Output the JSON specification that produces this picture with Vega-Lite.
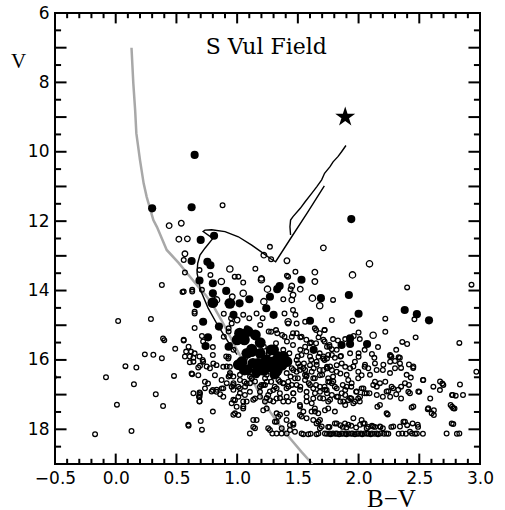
{
  "$schema": "https://vega.github.io/schema/vega-lite/v6.json",
  "width": 425,
  "height": 451,
  "autosize": {"type": "none"},
  "padding": {"left": 55, "top": 13, "right": 25, "bottom": 46},
  "background": "white",
  "config": {
    "view": {"stroke": "black", "strokeWidth": 2},
    "axis": {"grid": false, "domain": false, "ticks": false, "labelColor": "black", "titleColor": "black"}
  },
  "datasets": {
    "xmaj": [{"t":0},{"t":0.5},{"t":1},{"t":1.5},{"t":2},{"t":2.5}],
    "xmin": [{"t":-0.4},{"t":-0.3},{"t":-0.2},{"t":-0.1},{"t":0.1},{"t":0.2},{"t":0.3},{"t":0.4},{"t":0.6},{"t":0.7},{"t":0.8},{"t":0.9},
             {"t":1.1},{"t":1.2},{"t":1.3},{"t":1.4},{"t":1.6},{"t":1.7},{"t":1.8},{"t":1.9},{"t":2.1},{"t":2.2},{"t":2.3},{"t":2.4},
             {"t":2.6},{"t":2.7},{"t":2.8},{"t":2.9}],
    "ymaj": [{"t":7},{"t":8},{"t":9},{"t":10},{"t":11},{"t":12},{"t":13},{"t":14},{"t":15},{"t":16},{"t":17},{"t":18}],
    "ymin": [{"t":6.5},{"t":7.5},{"t":8.5},{"t":9.5},{"t":10.5},{"t":11.5},{"t":12.5},{"t":13.5},{"t":14.5},{"t":15.5},{"t":16.5},{"t":17.5},{"t":18.5}],
    "zams": [
      {"o":1,"bv":0.13,"v":7.0},{"o":2,"bv":0.145,"v":8.03},{"o":3,"bv":0.16,"v":8.8},{"o":4,"bv":0.17,"v":9.47},
      {"o":5,"bv":0.20,"v":10.24},{"o":6,"bv":0.23,"v":10.91},{"o":7,"bv":0.255,"v":11.3},{"o":8,"bv":0.31,"v":11.97},
      {"o":9,"bv":0.34,"v":12.17},{"o":10,"bv":0.42,"v":12.83},{"o":11,"bv":0.52,"v":13.21},{"o":12,"bv":0.60,"v":13.55},
      {"o":13,"bv":0.68,"v":13.89},{"o":14,"bv":0.74,"v":14.13},{"o":15,"bv":0.80,"v":14.42},{"o":16,"bv":0.87,"v":14.85},
      {"o":17,"bv":0.93,"v":15.25},{"o":18,"bv":0.99,"v":15.65},{"o":19,"bv":1.05,"v":16.05},{"o":20,"bv":1.12,"v":16.55},
      {"o":21,"bv":1.19,"v":17.01},{"o":22,"bv":1.27,"v":17.49},{"o":23,"bv":1.35,"v":17.88},{"o":24,"bv":1.435,"v":18.26},
      {"o":25,"bv":1.53,"v":18.65},{"o":26,"bv":1.62,"v":19.0}
    ],
    "iso": [
      {"s":"rgb","o":1,"bv":1.0,"v":15.85},{"s":"rgb","o":2,"bv":0.93,"v":15.5},{"s":"rgb","o":3,"bv":0.84,"v":15.0},
      {"s":"rgb","o":4,"bv":0.76,"v":14.5},{"s":"rgb","o":5,"bv":0.70,"v":14.0},{"s":"rgb","o":6,"bv":0.67,"v":13.5},
      {"s":"rgb","o":7,"bv":0.675,"v":13.22},{"s":"rgb","o":8,"bv":0.694,"v":12.98},{"s":"rgb","o":9,"bv":0.735,"v":12.78},
      {"s":"rgb","o":10,"bv":0.80,"v":12.5},{"s":"rgb","o":11,"bv":0.72,"v":12.3},{"s":"rgb","o":12,"bv":0.735,"v":12.26},
      {"s":"rgb","o":13,"bv":0.79,"v":12.25},{"s":"rgb","o":14,"bv":0.90,"v":12.3},{"s":"rgb","o":15,"bv":1.01,"v":12.45},
      {"s":"rgb","o":16,"bv":1.12,"v":12.69},{"s":"rgb","o":17,"bv":1.216,"v":12.93},{"s":"rgb","o":18,"bv":1.27,"v":13.07},
      {"s":"rgb","o":19,"bv":1.317,"v":13.17},{"s":"rgb","o":20,"bv":1.44,"v":12.5},{"s":"rgb","o":21,"bv":1.58,"v":11.75},
      {"s":"rgb","o":22,"bv":1.718,"v":10.98},
      {"s":"agb","o":1,"bv":1.44,"v":12.4},{"s":"agb","o":2,"bv":1.435,"v":12.16},{"s":"agb","o":3,"bv":1.44,"v":11.97},
      {"s":"agb","o":4,"bv":1.46,"v":11.87},{"s":"agb","o":5,"bv":1.52,"v":11.63},{"s":"agb","o":6,"bv":1.56,"v":11.44},
      {"s":"agb","o":7,"bv":1.614,"v":11.2},{"s":"agb","o":8,"bv":1.655,"v":11.01},{"s":"agb","o":9,"bv":1.696,"v":10.81},
      {"s":"agb","o":10,"bv":1.72,"v":10.62},{"s":"agb","o":11,"bv":1.765,"v":10.43},{"s":"agb","o":12,"bv":1.79,"v":10.29},
      {"s":"agb","o":13,"bv":1.83,"v":10.14},{"s":"agb","o":14,"bv":1.86,"v":10.0},{"s":"agb","o":15,"bv":1.896,"v":9.82}
    ],
    "filled": [
      {"bv":0.65,"v":10.09,"c":"a"},{"bv":0.30,"v":11.63,"c":"a"},{"bv":0.625,"v":11.6,"c":"a"},{"bv":1.94,"v":11.94,"c":"a"},
      {"bv":0.70,"v":12.54,"c":"a"},{"bv":0.81,"v":12.42,"c":"a"},{"bv":0.625,"v":13.15,"c":"a"},{"bv":0.755,"v":13.17,"c":"a"},
      {"bv":0.78,"v":13.27,"c":"a"},{"bv":0.69,"v":13.71,"c":"a"},{"bv":0.80,"v":13.79,"c":"a"},{"bv":0.67,"v":14.39,"c":"a"},
      {"bv":0.80,"v":14.08,"c":"a"},{"bv":0.80,"v":14.35,"c":"b"},{"bv":0.91,"v":14.01,"c":"a"},{"bv":0.94,"v":14.37,"c":"b"},
      {"bv":1.02,"v":14.37,"c":"a"},{"bv":1.10,"v":14.25,"c":"a"},{"bv":1.24,"v":14.51,"c":"a"},{"bv":1.27,"v":14.18,"c":"a"},
      {"bv":1.30,"v":14.7,"c":"a"},{"bv":1.33,"v":13.96,"c":"a"},{"bv":1.35,"v":13.87,"c":"a"},{"bv":0.97,"v":14.7,"c":"a"},
      {"bv":1.53,"v":13.69,"c":"a"},{"bv":1.69,"v":14.22,"c":"a"},{"bv":1.60,"v":14.87,"c":"a"},{"bv":1.92,"v":14.13,"c":"a"},
      {"bv":2.0,"v":14.67,"c":"a"},{"bv":2.38,"v":14.56,"c":"a"},{"bv":2.48,"v":14.68,"c":"a"},{"bv":2.58,"v":14.86,"c":"a"},
      {"bv":0.72,"v":14.9,"c":"a"},{"bv":0.85,"v":15.04,"c":"a"},{"bv":0.76,"v":15.35,"c":"a"},{"bv":0.74,"v":15.6,"c":"a"},
      {"bv":0.93,"v":15.62,"c":"a"},{"bv":1.63,"v":15.71,"c":"a"},{"bv":1.86,"v":15.57,"c":"a"},{"bv":1.93,"v":15.38,"c":"a"},
      {"bv":1.93,"v":15.54,"c":"a"},{"bv":2.07,"v":15.54,"c":"a"},
      {"bv":1.02,"v":15.23,"c":"b"},{"bv":1.05,"v":15.28,"c":"b"},{"bv":1.09,"v":15.18,"c":"b"},{"bv":1.15,"v":15.28,"c":"b"},
      {"bv":1.06,"v":15.42,"c":"b"},{"bv":1.0,"v":15.42,"c":"b"},{"bv":1.19,"v":15.5,"c":"b"},{"bv":1.12,"v":15.69,"c":"b"},
      {"bv":1.12,"v":15.76,"c":"b"},{"bv":1.08,"v":15.81,"c":"b"},{"bv":1.19,"v":15.81,"c":"b"},{"bv":1.28,"v":15.71,"c":"b"},
      {"bv":1.30,"v":15.71,"c":"b"},{"bv":1.34,"v":15.91,"c":"b"},{"bv":1.24,"v":16.0,"c":"b"},{"bv":1.38,"v":15.9,"c":"b"},
      {"bv":1.01,"v":16.14,"c":"b"},{"bv":1.04,"v":16.05,"c":"b"},{"bv":1.08,"v":16.28,"c":"b"},{"bv":1.13,"v":16.1,"c":"b"},
      {"bv":1.17,"v":16.1,"c":"b"},{"bv":1.19,"v":16.19,"c":"b"},{"bv":1.26,"v":16.2,"c":"b"},{"bv":1.24,"v":16.1,"c":"b"},
      {"bv":1.30,"v":16.05,"c":"b"},{"bv":1.37,"v":16.15,"c":"b"},{"bv":1.41,"v":16.05,"c":"b"},{"bv":1.06,"v":16.29,"c":"b"},
      {"bv":1.16,"v":16.34,"c":"b"},{"bv":1.31,"v":16.39,"c":"b"},{"bv":1.33,"v":16.3,"c":"b"},{"bv":1.22,"v":16.3,"c":"b"}
    ],
    "open": [
      {"bv":-0.51,"v":16.5,"c":"s"},{"bv":0.38,"v":13.84,"c":"s"},{"bv":0.02,"v":14.88,"c":"s"},{"bv":0.29,"v":14.82,"c":"s"},
      {"bv":0.55,"v":14.04,"c":"s"},{"bv":0.63,"v":14.03,"c":"s"},{"bv":0.39,"v":15.38,"c":"s"},{"bv":0.40,"v":15.43,"c":"s"},
      {"bv":0.49,"v":15.68,"c":"s"},{"bv":0.56,"v":15.44,"c":"s"},{"bv":0.24,"v":15.84,"c":"s"},{"bv":0.31,"v":15.85,"c":"s"},
      {"bv":0.38,"v":15.95,"c":"s"},{"bv":0.08,"v":16.18,"c":"s"},{"bv":0.17,"v":16.22,"c":"s"},{"bv":-0.08,"v":16.5,"c":"s"},
      {"bv":0.15,"v":16.7,"c":"s"},{"bv":0.33,"v":16.99,"c":"s"},{"bv":0.01,"v":17.29,"c":"s"},{"bv":0.39,"v":17.33,"c":"s"},
      {"bv":-0.17,"v":18.14,"c":"s"},{"bv":0.13,"v":18.05,"c":"s"},{"bv":0.48,"v":16.46,"c":"s"},{"bv":0.57,"v":13.48,"c":"s"},
      {"bv":0.65,"v":14.61,"c":"s"},{"bv":0.65,"v":15.08,"c":"s"},{"bv":0.62,"v":15.76,"c":"s"},{"bv":0.71,"v":15.31,"c":"s"},
      {"bv":0.72,"v":15.47,"c":"s"},{"bv":0.61,"v":15.9,"c":"s"},{"bv":0.60,"v":17.9,"c":"s"},{"bv":0.70,"v":17.76,"c":"s"},
      {"bv":0.71,"v":18.01,"c":"s"},{"bv":0.64,"v":16.96,"c":"s"},{"bv":0.69,"v":16.94,"c":"s"},{"bv":0.69,"v":17.06,"c":"s"},
      {"bv":0.69,"v":17.2,"c":"s"},{"bv":0.63,"v":16.41,"c":"s"},{"bv":0.68,"v":16.44,"c":"s"},{"bv":0.64,"v":16.05,"c":"s"},
      {"bv":0.68,"v":16.22,"c":"s"},{"bv":0.72,"v":16.05,"c":"s"},
      {"bv":0.88,"v":11.54,"c":"s"},{"bv":0.44,"v":12.13,"c":"m"},{"bv":0.54,"v":12.06,"c":"m"},{"bv":0.52,"v":12.52,"c":"m"},
      {"bv":0.59,"v":12.51,"c":"m"},{"bv":0.57,"v":12.94,"c":"m"},{"bv":1.71,"v":12.77,"c":"m"},{"bv":1.27,"v":12.74,"c":"s"},
      {"bv":1.22,"v":12.98,"c":"m"},{"bv":1.28,"v":13.1,"c":"s"},{"bv":1.41,"v":13.14,"c":"m"},{"bv":0.94,"v":13.38,"c":"l"},
      {"bv":1.15,"v":13.37,"c":"s"},{"bv":1.01,"v":13.6,"c":"s"},{"bv":1.20,"v":13.65,"c":"m"},{"bv":1.41,"v":13.57,"c":"s"},
      {"bv":1.48,"v":13.46,"c":"s"},{"bv":1.64,"v":13.47,"c":"m"},{"bv":1.95,"v":13.55,"c":"l"},{"bv":2.09,"v":13.23,"c":"l"},
      {"bv":0.56,"v":13.12,"c":"s"},{"bv":0.69,"v":13.41,"c":"s"},{"bv":0.78,"v":13.55,"c":"s"},
      {"bv":0.87,"v":13.74,"c":"l"},{"bv":0.98,"v":13.6,"c":"s"},{"bv":1.05,"v":13.77,"c":"s"},{"bv":1.20,"v":13.69,"c":"l"},
      {"bv":1.25,"v":13.96,"c":"l"},{"bv":1.42,"v":13.6,"c":"s"},{"bv":1.64,"v":13.74,"c":"m"},{"bv":1.45,"v":13.87,"c":"m"},
      {"bv":1.44,"v":13.96,"c":"s"},{"bv":1.52,"v":13.96,"c":"m"},{"bv":0.56,"v":14.03,"c":"s"},{"bv":0.63,"v":13.98,"c":"s"},
      {"bv":0.71,"v":13.98,"c":"s"},{"bv":0.83,"v":14.27,"c":"l"},{"bv":0.96,"v":14.18,"c":"m"},{"bv":1.05,"v":14.08,"c":"l"},
      {"bv":1.22,"v":14.32,"c":"l"},{"bv":1.38,"v":14.25,"c":"s"},{"bv":1.46,"v":14.13,"c":"m"},{"bv":1.45,"v":14.27,"c":"m"},
      {"bv":1.62,"v":14.22,"c":"l"},{"bv":1.68,"v":14.44,"c":"l"},{"bv":0.65,"v":14.66,"c":"s"},{"bv":0.89,"v":14.67,"c":"s"},
      {"bv":0.95,"v":14.8,"c":"s"},{"bv":1.0,"v":14.85,"c":"m"},{"bv":1.05,"v":14.7,"c":"s"},{"bv":1.10,"v":14.8,"c":"s"},
      {"bv":1.16,"v":14.66,"c":"s"},{"bv":1.21,"v":14.8,"c":"s"},{"bv":1.39,"v":14.66,"c":"s"},{"bv":1.46,"v":14.56,"c":"s"},
      {"bv":1.48,"v":14.7,"c":"s"},{"bv":1.42,"v":14.9,"c":"l"},{"bv":1.56,"v":14.9,"c":"s"},{"bv":1.65,"v":15.14,"c":"s"},
      {"bv":1.72,"v":15.14,"c":"s"},{"bv":1.08,"v":15.09,"c":"s"},{"bv":1.26,"v":15.18,"c":"s"},{"bv":1.32,"v":15.14,"c":"s"},
      {"bv":1.37,"v":15.28,"c":"s"},{"bv":1.46,"v":15.23,"c":"s"},{"bv":1.52,"v":15.35,"c":"s"},{"bv":1.57,"v":15.42,"c":"s"},
      {"bv":1.67,"v":15.35,"c":"s"},{"bv":1.61,"v":15.5,"c":"s"},{"bv":1.71,"v":15.42,"c":"s"},{"bv":0.56,"v":15.42,"c":"s"},
      {"bv":0.60,"v":15.62,"c":"s"},{"bv":0.58,"v":15.76,"c":"s"},{"bv":0.65,"v":15.81,"c":"s"},{"bv":0.80,"v":15.63,"c":"s"},
      {"bv":0.89,"v":15.33,"c":"s"},{"bv":0.93,"v":15.18,"c":"s"},{"bv":1.32,"v":15.52,"c":"s"},{"bv":1.38,"v":15.71,"c":"s"},
      {"bv":1.41,"v":15.47,"c":"s"},{"bv":1.46,"v":15.57,"c":"s"},{"bv":1.52,"v":15.71,"c":"s"},{"bv":1.56,"v":15.62,"c":"s"},
      {"bv":1.68,"v":15.81,"c":"s"},{"bv":1.74,"v":15.62,"c":"s"},{"bv":1.22,"v":15.62,"c":"s"},{"bv":1.26,"v":15.81,"c":"s"},
      {"bv":1.33,"v":15.9,"c":"s"},{"bv":1.43,"v":15.81,"c":"s"},{"bv":1.50,"v":15.9,"c":"s"},{"bv":1.60,"v":15.9,"c":"s"},
      {"bv":1.71,"v":15.9,"c":"s"},{"bv":0.57,"v":15.9,"c":"s"},{"bv":0.69,"v":15.9,"c":"s"},{"bv":0.80,"v":15.86,"c":"s"},
      {"bv":0.91,"v":15.9,"c":"s"},{"bv":0.97,"v":15.71,"c":"s"},
      {"bv":0.93,"v":15.09,"c":"s"},{"bv":0.955,"v":14.95,"c":"s"},{"bv":0.94,"v":15.57,"c":"s"},{"bv":0.93,"v":15.91,"c":"s"},
      {"bv":0.94,"v":16.2,"c":"s"},{"bv":0.93,"v":16.48,"c":"s"},{"bv":0.97,"v":16.67,"c":"s"},{"bv":1.19,"v":14.99,"c":"s"},
      {"bv":1.28,"v":15.19,"c":"s"},{"bv":1.33,"v":15.23,"c":"s"},{"bv":1.39,"v":15.33,"c":"s"},{"bv":1.45,"v":15.33,"c":"s"},
      {"bv":1.49,"v":15.23,"c":"s"},{"bv":1.53,"v":15.33,"c":"s"},{"bv":1.42,"v":14.95,"c":"s"},{"bv":1.49,"v":14.95,"c":"s"},
      {"bv":1.64,"v":15.09,"c":"s"},{"bv":1.68,"v":15.23,"c":"s"},{"bv":1.72,"v":15.14,"c":"s"},{"bv":1.60,"v":15.52,"c":"s"},
      {"bv":1.65,"v":15.52,"c":"s"},{"bv":1.72,"v":15.47,"c":"s"},{"bv":1.76,"v":15.62,"c":"s"},{"bv":1.53,"v":15.86,"c":"s"},
      {"bv":1.57,"v":15.76,"c":"s"},{"bv":1.49,"v":16.0,"c":"s"},{"bv":1.55,"v":16.1,"c":"s"},{"bv":1.61,"v":16.0,"c":"s"},
      {"bv":1.67,"v":15.91,"c":"s"},{"bv":1.72,"v":16.0,"c":"s"},{"bv":1.78,"v":15.86,"c":"s"},{"bv":1.45,"v":16.24,"c":"s"},
      {"bv":1.49,"v":16.34,"c":"s"},{"bv":1.56,"v":16.29,"c":"s"},{"bv":1.63,"v":16.24,"c":"s"},{"bv":1.68,"v":16.29,"c":"s"},
      {"bv":1.74,"v":16.2,"c":"s"},{"bv":1.78,"v":16.29,"c":"s"},{"bv":1.44,"v":16.48,"c":"s"},{"bv":1.50,"v":16.53,"c":"s"},
      {"bv":1.57,"v":16.48,"c":"s"},{"bv":1.64,"v":16.53,"c":"s"},{"bv":1.70,"v":16.43,"c":"s"},{"bv":1.75,"v":16.53,"c":"s"},
      {"bv":1.45,"v":16.72,"c":"s"},{"bv":1.52,"v":16.77,"c":"s"},{"bv":1.59,"v":16.67,"c":"s"},{"bv":1.65,"v":16.72,"c":"s"},
      {"bv":1.72,"v":16.77,"c":"s"},{"bv":1.78,"v":16.67,"c":"s"},{"bv":1.23,"v":16.53,"c":"s"},{"bv":1.28,"v":16.63,"c":"s"},
      {"bv":1.34,"v":16.58,"c":"s"},{"bv":1.38,"v":16.67,"c":"s"},{"bv":1.20,"v":16.72,"c":"s"},{"bv":1.31,"v":16.77,"c":"s"},
      {"bv":1.06,"v":16.63,"c":"s"},{"bv":1.12,"v":16.53,"c":"s"},{"bv":1.01,"v":16.77,"c":"s"},{"bv":0.955,"v":16.77,"c":"s"},
      {"bv":2.40,"v":13.91,"c":"s"},{"bv":2.93,"v":13.83,"c":"s"},{"bv":1.79,"v":14.27,"c":"s"},{"bv":2.46,"v":14.83,"c":"s"},
      {"bv":2.22,"v":14.81,"c":"s"},{"bv":1.95,"v":14.87,"c":"s"},{"bv":1.78,"v":14.85,"c":"s"},{"bv":2.22,"v":15.19,"c":"s"},
      {"bv":2.47,"v":15.35,"c":"s"},{"bv":2.83,"v":15.51,"c":"s"},{"bv":2.36,"v":15.48,"c":"s"},{"bv":2.40,"v":15.54,"c":"s"},
      {"bv":2.12,"v":15.29,"c":"l"},{"bv":2.0,"v":15.21,"c":"s"},{"bv":2.01,"v":15.4,"c":"s"},{"bv":1.96,"v":15.31,"c":"s"},
      {"bv":1.89,"v":15.4,"c":"s"},{"bv":1.83,"v":15.44,"c":"s"},{"bv":1.79,"v":15.4,"c":"s"},{"bv":1.76,"v":15.57,"c":"s"},
      {"bv":1.78,"v":15.69,"c":"s"},{"bv":1.82,"v":15.71,"c":"s"},{"bv":1.75,"v":15.86,"c":"s"},{"bv":2.16,"v":15.63,"c":"s"},
      {"bv":2.11,"v":15.83,"c":"s"},{"bv":2.05,"v":15.71,"c":"s"},{"bv":2.0,"v":15.81,"c":"s"},{"bv":1.93,"v":15.81,"c":"s"},
      {"bv":1.85,"v":15.9,"c":"s"},{"bv":2.27,"v":15.9,"c":"s"},{"bv":2.31,"v":15.71,"c":"s"},{"bv":2.33,"v":15.92,"c":"s"},
      {"bv":2.26,"v":15.86,"c":"s"},
      {"bv":1.74,"v":15.96,"c":"s"},{"bv":1.805,"v":15.94,"c":"s"},{"bv":1.855,"v":15.89,"c":"s"},{"bv":2.0,"v":15.91,"c":"s"},
      {"bv":2.13,"v":15.94,"c":"s"},{"bv":2.26,"v":15.89,"c":"s"},{"bv":2.34,"v":15.94,"c":"s"},{"bv":1.745,"v":16.24,"c":"s"},
      {"bv":1.82,"v":16.15,"c":"s"},{"bv":1.89,"v":16.2,"c":"s"},{"bv":1.93,"v":16.24,"c":"s"},{"bv":1.97,"v":16.05,"c":"s"},
      {"bv":2.05,"v":16.2,"c":"s"},{"bv":2.135,"v":16.1,"c":"s"},{"bv":2.20,"v":16.29,"c":"s"},{"bv":2.26,"v":16.05,"c":"s"},
      {"bv":2.30,"v":16.03,"c":"s"},{"bv":2.35,"v":16.23,"c":"s"},{"bv":2.415,"v":16.13,"c":"s"},{"bv":2.45,"v":16.23,"c":"s"},
      {"bv":2.53,"v":16.58,"c":"s"},{"bv":2.43,"v":16.51,"c":"s"},{"bv":2.415,"v":16.72,"c":"s"},{"bv":2.35,"v":16.77,"c":"s"},
      {"bv":2.285,"v":16.82,"c":"s"},{"bv":2.245,"v":16.9,"c":"s"},{"bv":2.22,"v":16.63,"c":"s"},{"bv":2.15,"v":16.77,"c":"s"},
      {"bv":2.135,"v":16.63,"c":"s"},{"bv":2.08,"v":16.24,"c":"s"},{"bv":2.025,"v":16.44,"c":"s"},{"bv":1.997,"v":16.53,"c":"s"},
      {"bv":1.915,"v":16.58,"c":"s"},{"bv":1.85,"v":16.39,"c":"s"},{"bv":1.79,"v":16.48,"c":"s"},{"bv":1.76,"v":16.63,"c":"s"},
      {"bv":1.805,"v":16.77,"c":"s"},{"bv":1.87,"v":16.72,"c":"s"},{"bv":1.94,"v":16.77,"c":"s"},{"bv":1.98,"v":16.92,"c":"s"},
      {"bv":2.04,"v":16.82,"c":"s"},{"bv":2.05,"v":16.96,"c":"s"},{"bv":1.997,"v":17.11,"c":"s"},{"bv":1.94,"v":17.11,"c":"s"},
      {"bv":1.89,"v":17.01,"c":"s"},{"bv":1.83,"v":17.06,"c":"s"},{"bv":1.78,"v":17.01,"c":"s"},{"bv":1.74,"v":16.96,"c":"s"},
      {"bv":1.75,"v":17.4,"c":"s"},{"bv":1.805,"v":17.49,"c":"s"},{"bv":1.915,"v":17.16,"c":"s"},{"bv":1.97,"v":17.2,"c":"s"},
      {"bv":2.01,"v":17.2,"c":"s"},{"bv":2.15,"v":17.01,"c":"s"},{"bv":2.20,"v":17.06,"c":"s"},{"bv":2.26,"v":17.06,"c":"s"},
      {"bv":2.31,"v":16.99,"c":"s"},{"bv":2.35,"v":17.11,"c":"s"},{"bv":2.41,"v":16.92,"c":"s"},{"bv":2.50,"v":16.92,"c":"s"},
      {"bv":2.59,"v":17.11,"c":"s"},{"bv":2.57,"v":17.42,"c":"s"},{"bv":2.62,"v":17.45,"c":"s"},{"bv":2.62,"v":17.59,"c":"s"},
      {"bv":2.67,"v":16.87,"c":"s"},{"bv":2.69,"v":16.68,"c":"s"},{"bv":2.77,"v":17.35,"c":"s"},{"bv":2.79,"v":17.4,"c":"s"},
      {"bv":2.835,"v":16.71,"c":"s"},{"bv":2.77,"v":17.01,"c":"s"},{"bv":2.80,"v":17.03,"c":"s"},{"bv":2.86,"v":17.01,"c":"s"},
      {"bv":2.97,"v":16.34,"c":"s"},{"bv":2.437,"v":17.37,"c":"s"},{"bv":2.24,"v":17.57,"c":"s"},{"bv":2.155,"v":17.35,"c":"s"},
      {"bv":2.09,"v":16.96,"c":"s"},{"bv":1.89,"v":16.87,"c":"s"},{"bv":1.85,"v":17.2,"c":"s"},{"bv":1.89,"v":17.3,"c":"s"},
      {"bv":1.76,"v":17.93,"c":"s"},{"bv":1.805,"v":17.83,"c":"s"},{"bv":1.85,"v":17.88,"c":"s"},{"bv":1.87,"v":17.93,"c":"s"},
      {"bv":1.90,"v":17.95,"c":"s"},{"bv":1.94,"v":17.9,"c":"s"},{"bv":1.98,"v":17.95,"c":"s"},{"bv":2.025,"v":17.73,"c":"s"},
      {"bv":2.05,"v":17.83,"c":"s"},{"bv":2.08,"v":17.93,"c":"s"},{"bv":2.11,"v":17.9,"c":"s"},{"bv":2.135,"v":17.93,"c":"s"},
      {"bv":2.18,"v":17.93,"c":"s"},{"bv":2.20,"v":17.97,"c":"s"},{"bv":2.27,"v":17.93,"c":"s"},{"bv":2.37,"v":17.78,"c":"s"},
      {"bv":2.40,"v":17.88,"c":"s"},{"bv":2.49,"v":17.93,"c":"s"},{"bv":2.78,"v":17.85,"c":"s"},
      {"bv":1.74,"v":18.13,"c":"s"},{"bv":1.76,"v":18.12,"c":"s"},{"bv":1.77,"v":18.14,"c":"s"},{"bv":1.79,"v":18.12,"c":"s"},
      {"bv":1.81,"v":18.13,"c":"s"},{"bv":1.82,"v":18.12,"c":"s"},{"bv":1.84,"v":18.14,"c":"s"},{"bv":1.86,"v":18.12,"c":"s"},
      {"bv":1.87,"v":18.13,"c":"s"},{"bv":1.89,"v":18.12,"c":"s"},{"bv":1.90,"v":18.14,"c":"s"},{"bv":1.92,"v":18.12,"c":"s"},
      {"bv":1.94,"v":18.13,"c":"s"},{"bv":1.95,"v":18.12,"c":"s"},{"bv":1.97,"v":18.14,"c":"s"},{"bv":1.99,"v":18.12,"c":"s"},
      {"bv":2.00,"v":18.13,"c":"s"},{"bv":2.02,"v":18.12,"c":"s"},{"bv":2.03,"v":18.14,"c":"s"},{"bv":2.05,"v":18.12,"c":"s"},
      {"bv":2.07,"v":18.13,"c":"s"},{"bv":2.08,"v":18.12,"c":"s"},{"bv":2.10,"v":18.14,"c":"s"},{"bv":2.11,"v":18.12,"c":"s"},
      {"bv":2.13,"v":18.13,"c":"s"},{"bv":2.15,"v":18.12,"c":"s"},{"bv":2.16,"v":18.14,"c":"s"},{"bv":2.18,"v":18.12,"c":"s"},
      {"bv":2.21,"v":18.13,"c":"s"},{"bv":2.23,"v":18.12,"c":"s"},{"bv":2.33,"v":18.13,"c":"s"},{"bv":2.36,"v":18.12,"c":"s"},
      {"bv":2.39,"v":18.13,"c":"s"},{"bv":2.44,"v":18.12,"c":"s"},{"bv":2.48,"v":18.12,"c":"s"},{"bv":2.53,"v":18.13,"c":"s"},
      {"bv":2.725,"v":18.12,"c":"s"},{"bv":2.81,"v":18.13,"c":"s"},{"bv":2.83,"v":18.12,"c":"s"},
      {"bv":0.64,"v":15.94,"c":"s"},{"bv":0.716,"v":16.0,"c":"s"},{"bv":0.61,"v":16.07,"c":"s"},{"bv":0.625,"v":16.39,"c":"s"},
      {"bv":0.776,"v":16.24,"c":"s"},{"bv":0.817,"v":16.44,"c":"s"},{"bv":0.83,"v":16.15,"c":"s"},{"bv":0.886,"v":16.2,"c":"s"},
      {"bv":0.94,"v":16.44,"c":"s"},{"bv":0.927,"v":15.96,"c":"s"},{"bv":0.996,"v":16.1,"c":"s"},{"bv":1.064,"v":15.96,"c":"s"},
      {"bv":0.735,"v":16.63,"c":"s"},{"bv":0.76,"v":16.68,"c":"s"},{"bv":0.872,"v":16.58,"c":"s"},{"bv":0.80,"v":16.87,"c":"s"},
      {"bv":0.83,"v":16.92,"c":"s"},{"bv":0.886,"v":16.82,"c":"s"},{"bv":0.86,"v":16.99,"c":"s"},{"bv":0.886,"v":17.06,"c":"s"},
      {"bv":0.69,"v":17.01,"c":"s"},{"bv":0.69,"v":17.19,"c":"s"},{"bv":0.80,"v":17.49,"c":"s"},{"bv":0.955,"v":17.25,"c":"s"},
      {"bv":0.982,"v":17.16,"c":"s"},{"bv":0.996,"v":17.35,"c":"s"},{"bv":1.05,"v":17.2,"c":"s"},{"bv":1.05,"v":17.4,"c":"s"},
      {"bv":1.01,"v":17.59,"c":"s"},{"bv":0.982,"v":17.54,"c":"s"},{"bv":1.064,"v":17.01,"c":"s"},{"bv":1.105,"v":16.92,"c":"s"},
      {"bv":1.147,"v":17.11,"c":"s"},{"bv":1.023,"v":16.82,"c":"s"},{"bv":0.968,"v":16.72,"c":"s"},{"bv":1.023,"v":16.58,"c":"s"},
      {"bv":1.078,"v":16.68,"c":"s"},{"bv":1.12,"v":16.53,"c":"s"},{"bv":1.16,"v":16.44,"c":"s"},{"bv":1.215,"v":16.72,"c":"s"},
      {"bv":1.188,"v":16.92,"c":"s"},{"bv":1.256,"v":17.01,"c":"s"},{"bv":1.297,"v":16.87,"c":"s"},{"bv":1.352,"v":16.96,"c":"s"},
      {"bv":1.407,"v":16.82,"c":"s"},{"bv":1.352,"v":16.63,"c":"s"},{"bv":1.243,"v":16.63,"c":"s"},{"bv":1.297,"v":16.44,"c":"s"},
      {"bv":1.421,"v":16.63,"c":"s"},{"bv":1.476,"v":16.53,"c":"s"},{"bv":1.49,"v":16.72,"c":"s"},{"bv":1.462,"v":16.96,"c":"s"},
      {"bv":1.421,"v":17.2,"c":"s"},{"bv":1.38,"v":17.2,"c":"s"},{"bv":1.325,"v":17.11,"c":"s"},{"bv":1.27,"v":17.16,"c":"s"},
      {"bv":1.229,"v":17.2,"c":"s"},{"bv":1.188,"v":17.06,"c":"s"},{"bv":1.243,"v":17.4,"c":"s"},{"bv":1.325,"v":17.54,"c":"s"},
      {"bv":1.339,"v":17.64,"c":"s"},{"bv":1.311,"v":17.78,"c":"s"},{"bv":1.407,"v":17.73,"c":"s"},{"bv":1.435,"v":17.88,"c":"s"},
      {"bv":1.462,"v":17.83,"c":"s"},{"bv":1.476,"v":18.07,"c":"s"},{"bv":1.517,"v":17.59,"c":"s"},{"bv":1.545,"v":17.49,"c":"s"},
      {"bv":1.572,"v":17.68,"c":"s"},{"bv":1.613,"v":17.49,"c":"s"},{"bv":1.64,"v":17.4,"c":"s"},{"bv":1.668,"v":17.54,"c":"s"},
      {"bv":1.682,"v":17.73,"c":"s"},{"bv":1.654,"v":17.83,"c":"s"},{"bv":1.723,"v":17.45,"c":"s"},{"bv":1.75,"v":17.2,"c":"s"},
      {"bv":1.709,"v":17.11,"c":"s"},{"bv":1.627,"v":17.11,"c":"s"},{"bv":1.572,"v":17.2,"c":"s"},{"bv":1.517,"v":17.3,"c":"s"},
      {"bv":1.572,"v":16.92,"c":"s"},{"bv":1.627,"v":16.82,"c":"s"},{"bv":1.682,"v":16.92,"c":"s"},{"bv":1.737,"v":16.87,"c":"s"},
      {"bv":1.75,"v":16.63,"c":"s"},{"bv":1.682,"v":16.44,"c":"s"},{"bv":1.627,"v":16.53,"c":"s"},{"bv":1.572,"v":16.44,"c":"s"},
      {"bv":1.545,"v":16.24,"c":"s"},{"bv":1.60,"v":16.15,"c":"s"},{"bv":1.654,"v":16.05,"c":"s"},{"bv":1.709,"v":15.96,"c":"s"},
      {"bv":1.737,"v":16.24,"c":"s"},{"bv":1.503,"v":16.1,"c":"s"},{"bv":1.517,"v":16.29,"c":"s"},{"bv":0.598,"v":17.87,"c":"s"},
      {"bv":1.105,"v":18.12,"c":"s"},{"bv":1.133,"v":17.93,"c":"s"},{"bv":1.16,"v":17.73,"c":"s"},{"bv":1.256,"v":17.97,"c":"s"},
      {"bv":1.29,"v":18.12,"c":"s"},{"bv":1.325,"v":18.12,"c":"s"},{"bv":1.366,"v":18.12,"c":"s"},{"bv":1.435,"v":18.02,"c":"s"},
      {"bv":1.545,"v":18.14,"c":"s"},{"bv":1.586,"v":18.14,"c":"s"},{"bv":1.605,"v":18.13,"c":"s"},{"bv":1.654,"v":18.14,"c":"s"},
      {"bv":1.682,"v":17.97,"c":"s"},{"bv":1.723,"v":18.12,"c":"s"},{"bv":1.75,"v":17.93,"c":"s"},{"bv":1.215,"v":17.45,"c":"s"},
      {"bv":0.694,"v":16.17,"c":"s"},{"bv":0.749,"v":16.19,"c":"s"},{"bv":0.804,"v":16.1,"c":"s"},{"bv":0.914,"v":16.19,"c":"s"},
      {"bv":0.941,"v":16.38,"c":"s"},{"bv":0.969,"v":16.48,"c":"s"},{"bv":1.023,"v":16.43,"c":"s"},{"bv":1.106,"v":16.48,"c":"s"},
      {"bv":1.161,"v":16.38,"c":"s"},{"bv":1.243,"v":16.43,"c":"s"},{"bv":1.298,"v":16.48,"c":"s"},{"bv":1.408,"v":16.38,"c":"s"},
      {"bv":1.463,"v":16.29,"c":"s"},{"bv":1.518,"v":16.19,"c":"s"},{"bv":1.559,"v":16.43,"c":"s"},{"bv":1.614,"v":16.34,"c":"s"},
      {"bv":1.655,"v":16.14,"c":"s"},{"bv":1.71,"v":16.29,"c":"s"},{"bv":1.765,"v":16.19,"c":"s"},{"bv":1.82,"v":16.34,"c":"s"},
      {"bv":1.861,"v":16.1,"c":"s"},{"bv":1.902,"v":16.43,"c":"s"},{"bv":1.957,"v":16.19,"c":"s"},{"bv":1.998,"v":16.34,"c":"s"},
      {"bv":2.053,"v":16.14,"c":"s"},{"bv":2.094,"v":16.43,"c":"s"},{"bv":2.149,"v":16.29,"c":"s"},{"bv":2.204,"v":16.14,"c":"s"},
      {"bv":2.259,"v":16.38,"c":"s"},{"bv":2.30,"v":16.24,"c":"s"},{"bv":2.341,"v":16.1,"c":"s"},{"bv":2.396,"v":16.43,"c":"s"},
      {"bv":2.451,"v":16.19,"c":"s"},{"bv":2.533,"v":16.58,"c":"s"},
      {"bv":0.694,"v":16.96,"c":"s"},{"bv":0.735,"v":16.82,"c":"s"},{"bv":0.79,"v":16.91,"c":"s"},{"bv":0.831,"v":16.86,"c":"s"},
      {"bv":0.873,"v":16.82,"c":"s"},{"bv":0.914,"v":16.67,"c":"s"},{"bv":0.969,"v":16.86,"c":"s"},{"bv":1.023,"v":16.96,"c":"s"},
      {"bv":1.065,"v":16.77,"c":"s"},{"bv":1.106,"v":16.67,"c":"s"},{"bv":1.147,"v":16.62,"c":"s"},{"bv":1.188,"v":16.77,"c":"s"},
      {"bv":1.229,"v":16.72,"c":"s"},{"bv":1.27,"v":16.91,"c":"s"},{"bv":1.325,"v":16.82,"c":"s"},{"bv":1.38,"v":16.67,"c":"s"},
      {"bv":1.422,"v":16.77,"c":"s"},{"bv":1.463,"v":16.96,"c":"s"},{"bv":1.518,"v":16.86,"c":"s"},{"bv":1.559,"v":16.58,"c":"s"},
      {"bv":1.60,"v":16.72,"c":"s"},{"bv":1.641,"v":16.96,"c":"s"},{"bv":1.682,"v":16.77,"c":"s"},{"bv":1.724,"v":16.86,"c":"s"},
      {"bv":1.792,"v":16.62,"c":"s"},{"bv":1.82,"v":16.82,"c":"s"},{"bv":1.861,"v":16.96,"c":"s"},{"bv":1.902,"v":16.77,"c":"s"},
      {"bv":1.943,"v":16.67,"c":"s"},{"bv":1.984,"v":16.91,"c":"s"},{"bv":2.025,"v":16.82,"c":"s"},{"bv":2.067,"v":16.96,"c":"s"},
      {"bv":2.121,"v":16.72,"c":"s"},{"bv":2.176,"v":16.67,"c":"s"},{"bv":2.231,"v":16.91,"c":"s"},{"bv":2.272,"v":16.77,"c":"s"},
      {"bv":2.327,"v":16.86,"c":"s"},{"bv":2.382,"v":16.67,"c":"s"},{"bv":2.423,"v":16.96,"c":"s"},{"bv":2.492,"v":16.91,"c":"s"},
      {"bv":2.616,"v":16.77,"c":"s"},{"bv":2.671,"v":16.62,"c":"s"},{"bv":2.698,"v":16.72,"c":"s"},{"bv":2.775,"v":17.01,"c":"s"},
      {"bv":0.686,"v":17.06,"c":"s"},{"bv":0.969,"v":17.15,"c":"s"},{"bv":1.01,"v":17.06,"c":"s"},{"bv":1.051,"v":17.34,"c":"s"},
      {"bv":1.078,"v":17.2,"c":"s"},{"bv":1.133,"v":17.15,"c":"s"},{"bv":1.243,"v":17.1,"c":"s"},{"bv":1.298,"v":17.2,"c":"s"},
      {"bv":1.353,"v":17.1,"c":"s"},{"bv":1.408,"v":17.06,"c":"s"},{"bv":1.463,"v":17.15,"c":"s"},{"bv":1.518,"v":17.34,"c":"s"},
      {"bv":1.572,"v":17.06,"c":"s"},{"bv":1.614,"v":17.25,"c":"s"},{"bv":1.641,"v":17.49,"c":"s"},{"bv":1.682,"v":17.1,"c":"s"},
      {"bv":1.765,"v":17.15,"c":"s"},{"bv":1.82,"v":17.06,"c":"s"},{"bv":1.874,"v":17.2,"c":"s"},{"bv":1.929,"v":17.1,"c":"s"},
      {"bv":1.957,"v":17.25,"c":"s"},{"bv":2.012,"v":17.06,"c":"s"},{"bv":2.176,"v":17.3,"c":"s"},{"bv":2.451,"v":17.34,"c":"s"},
      {"bv":2.574,"v":17.39,"c":"s"},{"bv":2.602,"v":17.54,"c":"s"},{"bv":2.758,"v":17.3,"c":"s"},{"bv":2.78,"v":17.39,"c":"s"},
      {"bv":0.969,"v":17.58,"c":"s"},{"bv":1.133,"v":17.73,"c":"s"},{"bv":1.353,"v":17.58,"c":"s"},{"bv":1.408,"v":17.54,"c":"s"},
      {"bv":1.325,"v":17.78,"c":"s"},{"bv":1.463,"v":17.87,"c":"s"},{"bv":1.531,"v":17.63,"c":"s"},{"bv":1.627,"v":17.73,"c":"s"},
      {"bv":1.669,"v":17.78,"c":"s"},{"bv":1.696,"v":17.92,"c":"s"},{"bv":1.82,"v":17.83,"c":"s"},{"bv":1.957,"v":17.68,"c":"s"},
      {"bv":2.039,"v":17.83,"c":"s"},{"bv":2.231,"v":17.54,"c":"s"},{"bv":2.341,"v":17.92,"c":"s"},{"bv":2.382,"v":17.78,"c":"s"},
      {"bv":2.487,"v":17.87,"c":"s"},{"bv":2.767,"v":17.83,"c":"s"},{"bv":1.147,"v":17.97,"c":"s"},{"bv":1.27,"v":18.02,"c":"s"},
      {"bv":1.367,"v":17.97,"c":"s"},{"bv":1.408,"v":18.12,"c":"s"},{"bv":1.531,"v":18.12,"c":"s"},{"bv":1.669,"v":18.12,"c":"s"},
      {"bv":2.245,"v":18.13,"c":"s"},{"bv":2.465,"v":18.13,"c":"s"},{"bv":1.888,"v":17.83,"c":"s"},{"bv":1.916,"v":17.87,"c":"s"},
      {"bv":2.012,"v":17.87,"c":"s"},{"bv":2.067,"v":17.97,"c":"s"},{"bv":2.121,"v":17.92,"c":"s"},{"bv":2.176,"v":17.92,"c":"s"},
      {"bv":2.286,"v":17.92,"c":"s"},{"bv":2.445,"v":17.83,"c":"s"},{"bv":2.423,"v":18.07,"c":"s"}
    ],
    "star": [{"bv":1.89,"v":9.0}],
    "lbl": [{"bv":1.24,"v":6.97,"label":"S Vul Field"}]
  },
  "resolve": {"scale": {"size": "independent"}},
  "layer": [
    {
      "data": {"name": "zams"},
      "mark": {"type": "line", "color": "#a8a8a8", "strokeWidth": 2.5, "clip": true},
      "encoding": {
        "x": {"field": "bv", "type": "quantitative", "scale": {"domain": [-0.5, 3.0], "nice": false, "zero": false, "padding": 0},
          "axis": {"orient": "bottom", "values": [-0.5, 0, 0.5, 1, 1.5, 2, 2.5, 3], "format": ".1f", "ticks": false, "domain": false, "labelFlush": false, "labelOverlap": false, "labelBound": false, "labelPadding": 6, "labelFont": "DejaVu Sans", "labelFontSize": 17, "title": "B−V", "titleFont": "Liberation Serif", "titleFontSize": 25, "titleFontWeight": "normal", "titleX": 336, "titleY": 42, "titleAlign": "center", "titleBaseline": "alphabetic"}},
        "y": {"field": "v", "type": "quantitative", "scale": {"domain": [6, 19], "reverse": true, "nice": false, "zero": false, "padding": 0},
          "axis": {"orient": "left", "values": [6, 7, 8, 9, 10, 11, 12, 13, 14, 15, 16, 17, 18], "format": "d", "ticks": false, "domain": false, "labelOverlap": false, "labelPadding": 6, "labelFont": "DejaVu Sans", "labelFontSize": 17, "labelBaseline": "middle", "title": "V", "titleAngle": 0, "titleFont": "Liberation Serif", "titleFontSize": 21, "titleFontWeight": "normal", "titleX": -37, "titleY": 54, "titleAlign": "center", "titleBaseline": "alphabetic"}},
        "order": {"field": "o", "type": "quantitative"}
      }
    },
    {
      "data": {"name": "xmaj"},
      "mark": {"type": "bar", "color": "black", "size": 2},
      "encoding": {
        "x": {"field": "t", "type": "quantitative", "scale": {"domain": [-0.5, 3.0], "nice": false, "zero": false, "padding": 0},
          "axis": {"orient": "bottom", "values": [-0.5, 0, 0.5, 1, 1.5, 2, 2.5, 3], "format": ".1f", "ticks": false, "domain": false, "labelFlush": false, "labelOverlap": false, "labelBound": false, "labelPadding": 6, "labelFont": "DejaVu Sans", "labelFontSize": 17, "title": "B−V", "titleFont": "Liberation Serif", "titleFontSize": 25, "titleFontWeight": "normal", "titleX": 336, "titleY": 42, "titleAlign": "center", "titleBaseline": "alphabetic"}},
        "y": {"datum": 19, "scale": {"domain": [6, 19], "reverse": true, "nice": false, "zero": false, "padding": 0},
          "axis": {"orient": "left", "values": [6, 7, 8, 9, 10, 11, 12, 13, 14, 15, 16, 17, 18], "format": "d", "ticks": false, "domain": false, "labelOverlap": false, "labelPadding": 6, "labelFont": "DejaVu Sans", "labelFontSize": 17, "labelBaseline": "middle", "title": "V", "titleAngle": 0, "titleFont": "Liberation Serif", "titleFontSize": 21, "titleFontWeight": "normal", "titleX": -37, "titleY": 54, "titleAlign": "center", "titleBaseline": "alphabetic"}},
        "y2": {"datum": 18.7}
      }
    },
    {
      "data": {"name": "xmaj"},
      "mark": {"type": "bar", "color": "black", "size": 2},
      "encoding": {
        "x": {"field": "t", "type": "quantitative"},
        "y": {"datum": 6},
        "y2": {"datum": 6.3}
      }
    },
    {
      "data": {"name": "xmin"},
      "mark": {"type": "bar", "color": "black", "size": 2},
      "encoding": {
        "x": {"field": "t", "type": "quantitative"},
        "y": {"datum": 19},
        "y2": {"datum": 18.85}
      }
    },
    {
      "data": {"name": "xmin"},
      "mark": {"type": "bar", "color": "black", "size": 2},
      "encoding": {
        "x": {"field": "t", "type": "quantitative"},
        "y": {"datum": 6},
        "y2": {"datum": 6.15}
      }
    },
    {
      "data": {"name": "ymaj"},
      "mark": {"type": "bar", "color": "black", "size": 2},
      "encoding": {
        "y": {"field": "t", "type": "quantitative"},
        "x": {"datum": -0.5},
        "x2": {"datum": -0.405}
      }
    },
    {
      "data": {"name": "ymaj"},
      "mark": {"type": "bar", "color": "black", "size": 2},
      "encoding": {
        "y": {"field": "t", "type": "quantitative"},
        "x": {"datum": 3.0},
        "x2": {"datum": 2.905}
      }
    },
    {
      "data": {"name": "ymin"},
      "mark": {"type": "bar", "color": "black", "size": 2},
      "encoding": {
        "y": {"field": "t", "type": "quantitative"},
        "x": {"datum": -0.5},
        "x2": {"datum": -0.45}
      }
    },
    {
      "data": {"name": "ymin"},
      "mark": {"type": "bar", "color": "black", "size": 2},
      "encoding": {
        "y": {"field": "t", "type": "quantitative"},
        "x": {"datum": 3.0},
        "x2": {"datum": 2.95}
      }
    },
    {
      "data": {"name": "iso"},
      "mark": {"type": "line", "color": "black", "strokeWidth": 1.4, "clip": true},
      "encoding": {
        "x": {"field": "bv", "type": "quantitative"},
        "y": {"field": "v", "type": "quantitative"},
        "detail": {"field": "s", "type": "nominal"},
        "order": {"field": "o", "type": "quantitative"}
      }
    },
    {
      "data": {"name": "open"},
      "mark": {"type": "point", "shape": "circle", "filled": false, "stroke": "black", "strokeWidth": 1.3, "opacity": 1, "clip": true},
      "encoding": {
        "x": {"field": "bv", "type": "quantitative"},
        "y": {"field": "v", "type": "quantitative"},
        "size": {"field": "c", "type": "ordinal", "scale": {"domain": ["s", "m", "l"], "range": [22, 40, 58]}, "legend": null}
      }
    },
    {
      "data": {"name": "filled"},
      "mark": {"type": "circle", "color": "black", "opacity": 1, "clip": true},
      "encoding": {
        "x": {"field": "bv", "type": "quantitative"},
        "y": {"field": "v", "type": "quantitative"},
        "size": {"field": "c", "type": "ordinal", "scale": {"domain": ["a", "b"], "range": [66, 118]}, "legend": null}
      }
    },
    {
      "data": {"name": "star"},
      "mark": {"type": "point", "shape": "M0,-1L0.2245,-0.309L0.951,-0.309L0.363,0.118L0.588,0.809L0,0.382L-0.588,0.809L-0.363,0.118L-0.951,-0.309L-0.2245,-0.309Z", "filled": true, "fill": "black", "strokeWidth": 0, "size": 440, "opacity": 1},
      "encoding": {
        "x": {"field": "bv", "type": "quantitative"},
        "y": {"field": "v", "type": "quantitative"}
      }
    },
    {
      "data": {"name": "lbl"},
      "mark": {"type": "text", "font": "DejaVu Serif", "fontSize": 22, "align": "center", "baseline": "middle", "color": "black"},
      "encoding": {
        "x": {"field": "bv", "type": "quantitative"},
        "y": {"field": "v", "type": "quantitative"},
        "text": {"field": "label"}
      }
    }
  ]
}
